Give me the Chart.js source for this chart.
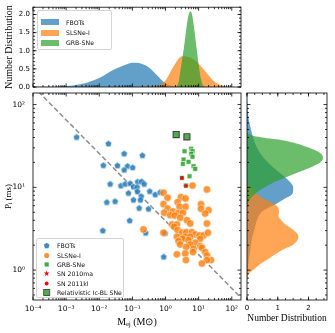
<!DOCTYPE html>
<html>
<head>
<meta charset="utf-8">
<script src="https://cdn.jsdelivr.net/npm/chart.js@4.4.0/dist/chart.umd.min.js"></script>
<style>
  html, body { margin: 0; padding: 0; background: #fff; }
  #wrap { position: relative; width: 335px; height: 333px; overflow: hidden; }
  #wrap canvas { position: absolute; left: 0; top: 0; }
  .legend { position: absolute; box-sizing: border-box; background: rgba(255,255,255,0.85);
            border: 1px solid #d4d4d4; border-radius: 2px;
            font-family: "DejaVu Sans", sans-serif; font-size: 6.2px; color: #111; }
  .legend .row { display: flex; align-items: center; white-space: nowrap; }
  .legend svg { flex: none; }
</style>
</head>
<body>
<div id="wrap">
  <canvas id="main" width="335" height="333"></canvas>
  <canvas id="top" width="335" height="333"></canvas>
  <canvas id="side" width="335" height="333"></canvas>

  <div class="legend" id="legTop" style="left:37px; top:10px; width:75px; height:40px; padding-top:6px;">
    <div class="row" style="height:10.4px;"><svg width="25" height="6" style="margin-left:3px"><rect x="0" y="0" width="18" height="6" fill="rgba(31,119,180,0.7)"/></svg>FBOTs</div>
    <div class="row" style="height:10.4px;"><svg width="25" height="6" style="margin-left:3px"><rect x="0" y="0" width="18" height="6" fill="rgba(255,127,14,0.7)"/></svg>SLSNe-I</div>
    <div class="row" style="height:10.4px;"><svg width="25" height="6" style="margin-left:3px"><rect x="0" y="0" width="18" height="6" fill="rgba(44,160,44,0.7)"/></svg>GRB-SNe</div>
  </div>

  <div class="legend" id="legMain" style="left:36px; top:238px; width:88px; height:60px; padding-top:2px;">
    <div class="row" style="height:9.4px;"><svg width="20" height="9"><polygon points="9.7,1.7 12.6,3.8 11.5,7.2 7.9,7.2 6.8,3.8" fill="rgba(31,119,180,0.85)"/></svg>FBOTs</div>
    <div class="row" style="height:9.4px;"><svg width="20" height="9"><circle cx="9.7" cy="4.5" r="2.6" fill="rgba(255,127,14,0.85)"/></svg>SLSNe-I</div>
    <div class="row" style="height:9.4px;"><svg width="20" height="9"><rect x="7.6" y="2.4" width="4.2" height="4.2" fill="rgba(44,160,44,0.9)"/></svg>GRB-SNe</div>
    <div class="row" style="height:9.4px;"><svg width="20" height="9"><polygon points="9.7,1.6 10.4,3.6 12.5,3.6 10.8,4.9 11.4,7 9.7,5.7 8,7 8.6,4.9 6.9,3.6 9,3.6" fill="#f00"/></svg>SN 2010ma</div>
    <div class="row" style="height:9.4px;"><svg width="20" height="9"><circle cx="9.7" cy="4.5" r="1.9" fill="#f00"/></svg>SN 2011kl</div>
    <div class="row" style="height:9.4px;"><svg width="20" height="9"><rect x="6.7" y="1.5" width="6" height="6" fill="rgba(44,160,44,0.85)" stroke="#444" stroke-width="0.9"/></svg>Relativistic Ic-BL SNe</div>
  </div>
</div>

<script>
// ---- scatter data: ejecta mass (Msun) and initial spin period (ms) ----
const fbotMej = [0.00207, 0.0189, 0.0564, 0.201, 0.0133, 0.0353, 0.071, 0.0564, 0.102, 0.0213,
                 0.0451, 0.0604, 0.0855, 0.144, 0.19, 0.227, 0.108, 0.139, 0.076, 0.142,
                 0.184, 0.333, 0.488, 0.69, 0.0169, 0.0301, 0.108, 0.175, 0.16, 0.306,
                 0.0826, 0.0128, 0.252, 0.977, 0.881];
const fbotP = [40.5, 33.8, 25.6, 24.4, 18.5, 18.4, 18.1, 16.3, 17.4, 11.0,
               10.5, 11.0, 11.2, 11.7, 11.8, 11.0, 10.2, 10.1, 8.55, 8.91,
               7.82, 8.99, 8.2, 8.74, 6.62, 6.8, 7.07, 7.07, 5.63, 5.51,
               3.98, 3.01, 2.83, 2.8, 1.45];

const slsnMej = [0.87, 1.16, 2.92, 4.02, 6.54, 17.8, 0.87, 2.33, 11.8, 1.16,
                 2.65, 4.02, 11.8, 19.9, 0.91, 1.67, 2.47, 3.35, 15.8, 1.38,
                 1.92, 2.78, 4.43, 5.57, 17.8, 1.59, 2.21, 1.83, 0.216, 0.87,
                 2.33, 3.19, 4.22, 6.27, 7.89, 10.6, 14.1, 19.1, 2.21, 3.94,
                 5.57, 3.26, 4.95, 2.47, 11.2, 7.89, 2.78, 5.57, 11.2, 12.6,
                 7.01, 4.22, 6.73, 15.8, 3.94, 2.21, 17.8, 4.13, 23.6, 17.8, 12.6];
const slsnP = [8.6, 7.48, 7.6, 7.33, 10.5, 9.42, 6.26, 6.62, 6.26, 5.56,
               5.82, 5.82, 5.51, 5.3, 4.93, 5.11, 4.93, 4.93, 4.83, 4.61,
               4.57, 4.29, 4.01, 3.66, 3.66, 3.56, 3.56, 3.34, 3.1, 2.83,
               3.04, 2.83, 2.87, 2.87, 2.7, 2.62, 2.62, 2.83, 2.53, 2.53,
               2.53, 2.39, 2.3, 2.24, 2.39, 2.14, 2.04, 2.04, 1.95, 1.86,
               1.81, 1.9, 1.65, 1.65, 1.59, 1.55, 1.5, 1.32, 1.32, 1.32, 1.2];

const grbMej = [3.75, 5.97, 6.54, 5.97, 6.54, 3.5, 4.95, 3.35, 7.01, 7.89, 5.31, 3.13, 4.13];
const grbP = [27.3, 29.2, 27.3, 25.4, 23.4, 21.7, 20.3, 19.2, 18.0, 16.7, 13.6, 13.0, 10.5];

const relMej = [2.1, 4.43];
const relP = [43.4, 40.8];

const sn2010maMej = [4.13];
const sn2010maP = [10.5];
const sn2011klMej = [3.13];
const sn2011klP = [13.0];

// dashed reference line, end points
const lineMej = [1e-4, 200];
const lineP = [167, 0.454];

// ---- density curves: log10 grid -> number distribution ----
const topFbotLogM = [-4, -3.75, -3.5, -3.25, -3, -2.75, -2.5, -2.25, -2, -1.75, -1.5, -1.25, -1, -0.75, -0.5, -0.25, 0, 0.25, 0.5];
const topFbotDens = [0.003, 0.004, 0.008, 0.015, 0.03, 0.05, 0.09, 0.16, 0.25, 0.38, 0.5, 0.6, 0.67, 0.65, 0.54, 0.32, 0.1, 0.02, 0];
const topSlsnLogM = [-0.75, -0.5, -0.25, 0, 0.25, 0.5, 0.75, 1, 1.25, 1.5, 1.75, 2, 2.25];
const topSlsnDens = [0, 0.005, 0.03, 0.18, 0.58, 0.85, 0.81, 0.64, 0.38, 0.13, 0.03, 0.005, 0];
const topGrbLogM = [0.3, 0.35, 0.4, 0.45, 0.5, 0.55, 0.6, 0.65, 0.7, 0.75, 0.8, 0.85, 0.9, 0.95, 1, 1.05, 1.1, 1.15, 1.2];
const topGrbDens = [0, 0.03, 0.15, 0.45, 0.75, 1.05, 1.4, 1.75, 2.0, 2.09, 2.0, 1.72, 1.35, 0.98, 0.62, 0.32, 0.12, 0.03, 0];

const sideFbotLogP = [-0.2, -0.1, 0, 0.1, 0.2, 0.3, 0.4, 0.5, 0.6, 0.7, 0.75, 0.8, 0.85, 0.9, 0.95, 1.0, 1.1, 1.2, 1.3, 1.4, 1.5, 1.6, 1.7, 1.8, 1.9, 2.0, 2.1];
const sideFbotDens = [0, 0.005, 0.02, 0.05, 0.09, 0.13, 0.17, 0.25, 0.32, 0.47, 0.68, 0.95, 1.17, 1.42, 1.5, 1.5, 1.3, 0.98, 0.68, 0.45, 0.3, 0.2, 0.13, 0.07, 0.03, 0.01, 0];
const sideSlsnLogP = [-0.15, -0.1, -0.05, 0, 0.05, 0.1, 0.15, 0.2, 0.25, 0.3, 0.35, 0.4, 0.45, 0.5, 0.55, 0.6, 0.65, 0.7, 0.75, 0.8, 0.85, 0.9, 0.95, 1.0, 1.05, 1.1];
const sideSlsnDens = [0, 0.01, 0.05, 0.2, 0.35, 0.55, 0.75, 0.96, 1.18, 1.48, 1.62, 1.67, 1.61, 1.45, 1.25, 1.12, 1.02, 1.04, 1.02, 0.88, 0.6, 0.38, 0.22, 0.12, 0.04, 0];
const sideGrbLogP = [0.75, 0.8, 0.85, 0.9, 0.95, 1.0, 1.05, 1.1, 1.15, 1.2, 1.25, 1.3, 1.35, 1.4, 1.45, 1.5, 1.55, 1.58, 1.6, 1.62, 1.64, 1.66];
const sideGrbDens = [0, 0.03, 0.09, 0.2, 0.36, 0.58, 0.82, 1.13, 1.45, 1.8, 2.12, 2.38, 2.47, 2.42, 2.2, 1.85, 1.38, 0.95, 0.55, 0.22, 0.08, 0];

// ---- axis ticks ----
const massTicks = [1e-4, 1e-3, 1e-2, 1e-1, 1, 10, 100];
const massTickLabels = ['10⁻⁴', '10⁻³', '10⁻²', '10⁻¹', '10⁰', '10¹', '10²'];
const periodTicks = [1, 10, 100];
const periodTickLabels = ['10⁰', '10¹', '10²'];
const topDensTicks = [0, 0.5, 1, 1.5, 2];
const topDensTickLabels = ['0.0', '0.5', '1.0', '1.5', '2.0'];
const sideDensTicks = [0, 1, 2];
const sideDensTickLabels = ['0', '1', '2'];

const MASS_MIN = 1e-4, MASS_MAX = 190;
const P_MIN = 0.435, P_MAX = 138;

// ---- helpers ----
function logMinor(lo, hi) {
  const out = [];
  for (let e = lo; e <= hi; e++) for (let k = 2; k <= 9; k++) out.push(k * Math.pow(10, e));
  return out;
}
function linMinor(max, step) {
  const out = [];
  for (let v = 0; v <= max + 1e-9; v += step) out.push(+v.toFixed(3));
  return out;
}
const pts = (xs, ys) => xs.map((x, i) => ({x: x, y: ys[i]}));
const curveX = (logs, dens) => logs.map((l, i) => ({x: Math.pow(10, l), y: dens[i]}));
const curveY = (logs, dens) => logs.map((l, i) => ({x: dens[i], y: Math.pow(10, l)}));

function marker(size, draw) {
  const c = document.createElement('canvas');
  c.width = size; c.height = size;
  draw(c.getContext('2d'), size / 2);
  return c;
}
const pentagon = marker(9, (g, m) => {
  g.beginPath();
  for (let k = 0; k < 5; k++) {
    const a = -Math.PI / 2 + k * 2 * Math.PI / 5;
    const px = m + 3.5 * Math.cos(a), py = m + 0.3 + 3.5 * Math.sin(a);
    if (k) g.lineTo(px, py); else g.moveTo(px, py);
  }
  g.closePath();
  g.fillStyle = 'rgba(31,119,180,0.85)';
  g.fill();
  g.strokeStyle = 'rgba(255,255,255,0.9)';
  g.lineWidth = 0.6;
  g.stroke();
});
const star = marker(9, (g, m) => {
  g.beginPath();
  for (let k = 0; k < 10; k++) {
    const r = k % 2 ? 1.2 : 2.9;
    const a = -Math.PI / 2 + k * Math.PI / 5;
    const px = m + r * Math.cos(a), py = m + 0.3 + r * Math.sin(a);
    if (k) g.lineTo(px, py); else g.moveTo(px, py);
  }
  g.closePath();
  g.fillStyle = '#ff0000';
  g.fill();
});

// frame + inward ticks on all four sides, like the matplotlib style
const framePlugin = {
  id: 'frame',
  afterDatasetsDraw(chart, args, opts) {
    const {ctx, chartArea: a} = chart;
    ctx.save();
    ctx.strokeStyle = '#000';
    ctx.lineWidth = 0.8;
    ctx.strokeRect(a.left, a.top, a.right - a.left, a.bottom - a.top);
    const mark = (axis, list, len) => {
      const s = chart.scales[axis];
      ctx.beginPath();
      for (const v of list) {
        if (v < s.min - 1e-12 || v > s.max) continue;
        const p = s.getPixelForValue(v);
        if (axis === 'x') {
          ctx.moveTo(p, a.bottom); ctx.lineTo(p, a.bottom - len);
          ctx.moveTo(p, a.top); ctx.lineTo(p, a.top + len);
        } else {
          ctx.moveTo(a.left, p); ctx.lineTo(a.left + len, p);
          ctx.moveTo(a.right, p); ctx.lineTo(a.right - len, p);
        }
      }
      ctx.stroke();
    };
    for (const axis of ['x', 'y']) {
      const t = opts[axis];
      if (!t) continue;
      mark(axis, t.major, 3.5);
      mark(axis, t.minor, 2);
    }
    ctx.restore();
  }
};

const tickFont = {family: '"DejaVu Sans", sans-serif', size: 7.5};
const titleFont = {family: '"Liberation Serif", "Times New Roman", serif', size: 10};
const base = {
  responsive: false,
  animation: false,
  events: [],
};
const quiet = {legend: {display: false}, tooltip: {enabled: false}};

function axis(extra) {
  return Object.assign({
    grid: {display: false, drawTicks: false},
    border: {display: false},
  }, extra);
}

// ---- main scatter ----
new Chart(document.getElementById('main'), {
  type: 'scatter',
  data: {
    datasets: [
      {label: 'SN 2010ma', data: pts(sn2010maMej, sn2010maP), pointStyle: star, pointRadius: 4, order: 0},
      {label: 'SN 2011kl', data: pts(sn2011klMej, sn2011klP), pointStyle: 'circle', pointRadius: 1.9,
       backgroundColor: '#ff0000', borderWidth: 0, order: 0},
      {label: 'Relativistic Ic-BL SNe', data: pts(relMej, relP), pointStyle: 'rect', pointRadius: 4.3,
       backgroundColor: 'rgba(44,160,44,0.85)', borderColor: '#444', borderWidth: 1.1, order: 1},
      {label: 'GRB-SNe', data: pts(grbMej, grbP), pointStyle: 'rect', pointRadius: 3.4,
       backgroundColor: 'rgba(44,160,44,0.85)', borderColor: 'rgba(255,255,255,0.55)', borderWidth: 1, order: 2},
      {label: 'SLSNe-I', data: pts(slsnMej, slsnP), pointStyle: 'circle', pointRadius: 3.7,
       backgroundColor: 'rgba(255,127,14,0.82)', borderColor: 'rgba(255,255,255,0.8)', borderWidth: 0.6, order: 3},
      {label: 'FBOTs', data: pts(fbotMej, fbotP), pointStyle: pentagon, pointRadius: 4, order: 4},
      {label: 'line', data: pts(lineMej, lineP), showLine: true, pointRadius: 0,
       borderColor: 'rgba(128,128,128,0.9)', borderWidth: 1.5, borderDash: [5, 2.6], order: 5}
    ]
  },
  options: Object.assign({}, base, {
    layout: {padding: {top: 93, right: 94, left: 0, bottom: 0}},
    plugins: Object.assign({}, quiet, {
      frame: {
        x: {major: massTicks, minor: logMinor(-4, 2)},
        y: {major: periodTicks, minor: logMinor(-1, 2)}
      }
    }),
    scales: {
      x: axis({
        type: 'logarithmic', min: MASS_MIN, max: MASS_MAX,
        afterBuildTicks: s => { s.ticks = massTicks.map(v => ({value: v})); },
        afterFit: s => { s.height = 33; },
        ticks: {font: tickFont, color: '#000', padding: 5, autoSkip: false, maxRotation: 0,
                callback: (v, i) => massTickLabels[i]},
        title: {display: true, text: 'Mₑⱼ (M⊙)', font: titleFont, color: '#000', padding: {top: 0, bottom: 5}}
      }),
      y: axis({
        type: 'logarithmic', min: P_MIN, max: P_MAX,
        afterBuildTicks: s => { s.ticks = periodTicks.map(v => ({value: v})); },
        afterFit: s => { s.width = 33; },
        ticks: {font: tickFont, color: '#000', padding: 8, autoSkip: false,
                callback: (v, i) => periodTickLabels[i]},
        title: {display: true, text: 'Pᵢ (ms)', font: Object.assign({}, titleFont, {size: 9}), color: '#000',
                padding: {top: 3, bottom: 0}}
      })
    }
  }),
  plugins: [framePlugin]
});

// ---- top marginal: distribution of ejecta mass ----
new Chart(document.getElementById('top'), {
  type: 'line',
  data: {
    datasets: [
      {label: 'GRB-SNe', data: curveX(topGrbLogM, topGrbDens), order: 0},
      {label: 'SLSNe-I', data: curveX(topSlsnLogM, topSlsnDens), order: 1},
      {label: 'FBOTs', data: curveX(topFbotLogM, topFbotDens), order: 2}
    ].map((d, i) => Object.assign(d, {
      fill: 'origin', pointRadius: 0, borderWidth: 0, cubicInterpolationMode: 'monotone',
      backgroundColor: ['rgba(44,160,44,0.7)', 'rgba(255,127,14,0.7)', 'rgba(31,119,180,0.7)'][i]
    }))
  },
  options: Object.assign({}, base, {
    layout: {padding: {top: 5, right: 94, left: 0, bottom: 246}},
    plugins: Object.assign({}, quiet, {
      frame: {
        x: {major: massTicks, minor: logMinor(-4, 2)},
        y: {major: topDensTicks, minor: linMinor(2.2, 0.1)}
      }
    }),
    scales: {
      x: axis({
        type: 'logarithmic', min: MASS_MIN, max: MASS_MAX,
        afterBuildTicks: s => { s.ticks = massTicks.map(v => ({value: v})); },
        afterFit: s => { s.height = 0; },
        ticks: {display: false}
      }),
      y: axis({
        type: 'linear', min: 0, max: 2.2,
        afterBuildTicks: s => { s.ticks = topDensTicks.map(v => ({value: v})); },
        afterFit: s => { s.width = 33; },
        ticks: {font: Object.assign({}, tickFont, {size: 7}), color: '#000', padding: 3, autoSkip: false,
                callback: (v, i) => topDensTickLabels[i]},
        title: {display: true, text: 'Number Distribution', font: titleFont, color: '#000', padding: {top: 3, bottom: 0}}
      })
    }
  }),
  plugins: [framePlugin]
});

// ---- right marginal: distribution of spin period ----
new Chart(document.getElementById('side'), {
  type: 'line',
  data: {
    datasets: [
      {label: 'GRB-SNe', data: curveY(sideGrbLogP, sideGrbDens), order: 0},
      {label: 'SLSNe-I', data: curveY(sideSlsnLogP, sideSlsnDens), order: 1},
      {label: 'FBOTs', data: curveY(sideFbotLogP, sideFbotDens), order: 2}
    ].map((d, i) => Object.assign(d, {
      fill: 'origin', pointRadius: 0, borderWidth: 0, cubicInterpolationMode: 'monotone',
      backgroundColor: ['rgba(44,160,44,0.7)', 'rgba(255,127,14,0.7)', 'rgba(31,119,180,0.7)'][i]
    }))
  },
  options: Object.assign({}, base, {
    indexAxis: 'y',
    layout: {padding: {top: 93, right: 8, left: 247, bottom: 0}},
    plugins: Object.assign({}, quiet, {
      frame: {
        x: {major: sideDensTicks, minor: linMinor(2.6, 0.25)},
        y: {major: periodTicks, minor: logMinor(-1, 2)}
      }
    }),
    scales: {
      x: axis({
        type: 'linear', min: 0, max: 2.6,
        afterBuildTicks: s => { s.ticks = sideDensTicks.map(v => ({value: v})); },
        afterFit: s => { s.height = 33; },
        ticks: {font: Object.assign({}, tickFont, {size: 7}), color: '#000', padding: 4,
                autoSkip: false, maxRotation: 0, callback: (v, i) => sideDensTickLabels[i]},
        title: {display: true, text: 'Number Distribution', font: Object.assign({}, titleFont, {size: 9.5}),
                color: '#000', padding: {top: 0, bottom: 9}}
      }),
      y: axis({
        type: 'logarithmic', min: P_MIN, max: P_MAX,
        afterBuildTicks: s => { s.ticks = periodTicks.map(v => ({value: v})); },
        afterFit: s => { s.width = 0; },
        ticks: {display: false}
      })
    }
  }),
  plugins: [framePlugin]
});
</script>
</body>
</html>
